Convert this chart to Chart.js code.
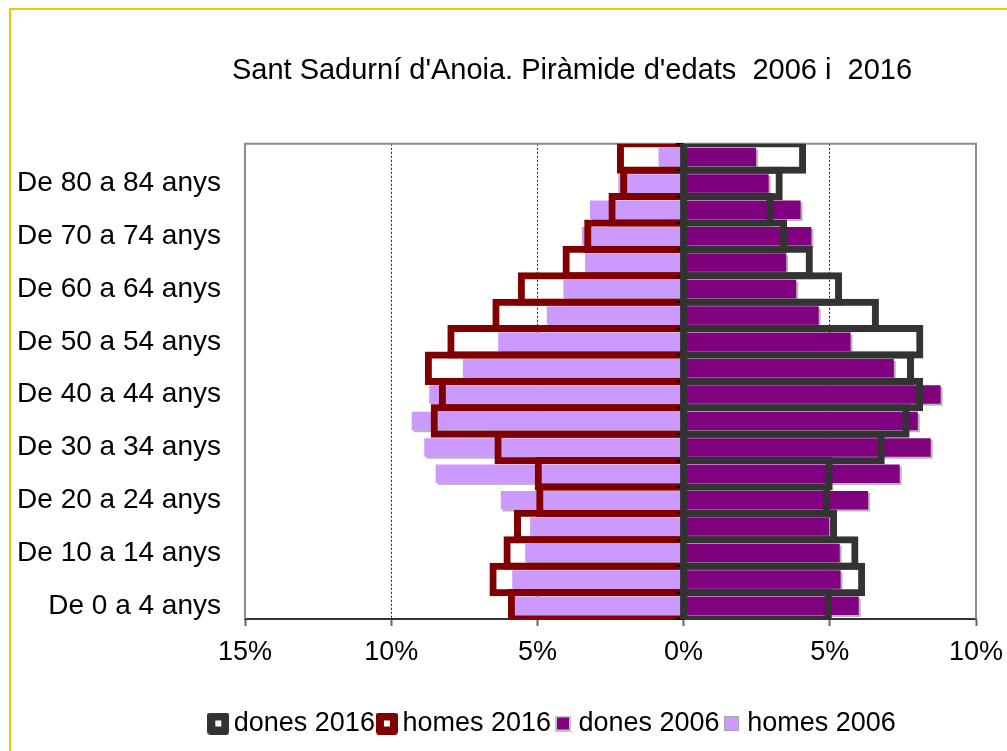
<!DOCTYPE html>
<html>
<head>
<meta charset="utf-8">
<script src="https://cdn.jsdelivr.net/npm/chart.js@4.4.1/dist/chart.umd.min.js"></script>
<style>
  html, body { margin: 0; padding: 0; background: #fff; overflow: hidden; }
  #marc { position: absolute; left: 9px; top: 8px; width: 1200px; height: 900px; border-left: 2px solid #f0c800; border-top: 2px solid #f0c800; }
  #grafic { position: absolute; left: 0; top: 0; }
</style>
</head>
<body>
<div id="marc"></div>
<canvas id="grafic" width="1007" height="751"></canvas>
<script>
// Grups d'edat (de baix a dalt)
const edats = [
  "De 0 a 4 anys", "De 5 a 9 anys", "De 10 a 14 anys", "De 15 a 19 anys",
  "De 20 a 24 anys", "De 25 a 29 anys", "De 30 a 34 anys", "De 35 a 39 anys",
  "De 40 a 44 anys", "De 45 a 49 anys", "De 50 a 54 anys", "De 55 a 59 anys",
  "De 60 a 64 anys", "De 65 a 69 anys", "De 70 a 74 anys", "De 75 a 79 anys",
  "De 80 a 84 anys", "De 85 anys i més"
];

// % sobre el total de cada sexe
const dones2016 = [5.07, 6.21, 5.98, 5.25, 5.01, 5.10, 6.88, 7.73, 8.19, 7.88, 8.20, 6.68, 5.42, 4.42, 3.54, 3.08, 3.39, 4.19];
const homes2016 = [6.01, 6.64, 6.16, 5.80, 5.04, 5.09, 6.47, 8.65, 8.37, 8.85, 8.08, 6.54, 5.67, 4.14, 3.40, 2.57, 2.17, 2.28];
const dones2006 = [5.99, 5.37, 5.34, 4.98, 6.31, 7.39, 8.45, 8.01, 8.79, 7.19, 5.71, 4.62, 3.85, 3.51, 4.37, 4.00, 2.91, 2.48];
const homes2006 = [5.85, 5.86, 5.42, 5.25, 6.25, 8.48, 8.87, 9.30, 8.70, 7.55, 6.34, 4.68, 4.11, 3.37, 3.48, 3.20, 2.23, 0.86];

const titol = "Sant Sadurní d'Anoia. Piràmide d'edats  2006 i  2016";
const ticksX = [-15, -10, -5, 0, 5, 10];

const FONT = "'Liberation Sans', Arial, sans-serif";
Chart.defaults.font.family = FONT;
Chart.defaults.color = "#000";

// quadradets de la llegenda
function quadret(mida, fons, vora, gruix, forat) {
  const c = document.createElement("canvas");
  c.width = mida; c.height = mida;
  const g = c.getContext("2d");
  g.fillStyle = vora;
  g.beginPath();
  g.roundRect(0, 0, mida, mida, forat ? 3 : 0);
  g.fill();
  g.fillStyle = fons;
  if (forat) {
    g.fillRect((mida - forat) / 2, (mida - forat) / 2, forat, forat);
  } else {
    g.fillRect(gruix, gruix, mida - 2 * gruix, mida - 2 * gruix);
  }
  return c;
}
const iconesLlegenda = [
  quadret(22, "#fff", "#333333", 0, 6),
  quadret(22, "#fff", "#800000", 0, 6),
  quadret(16, "#800080", "#c4c4c4", 2),
  quadret(15, "#cc99ff", "#a8a8a8", 1)
];

// marc gris de l'àrea de dibuix
const marcPlot = {
  id: "marcPlot",
  beforeDatasetsDraw(chart) {
    const { ctx, chartArea: a } = chart;
    ctx.save();
    ctx.strokeStyle = "#8c8c8c";
    ctx.lineWidth = 2;
    ctx.beginPath();
    ctx.moveTo(a.left, a.bottom);
    ctx.lineTo(a.left, a.top);
    ctx.lineTo(a.right, a.top);
    ctx.lineTo(a.right, a.bottom);
    ctx.stroke();
    ctx.restore();
  }
};

// ombra de les barres del 2006
const ombra = {
  id: "ombra",
  beforeDatasetDraw(chart, args) {
    if (args.index < 2) return;
    const ctx = chart.ctx;
    ctx.save();
    ctx.shadowColor = "#b8b8b8";
    ctx.shadowOffsetX = 2;
    ctx.shadowOffsetY = 2;
    ctx.shadowBlur = 0;
  },
  afterDatasetDraw(chart, args) {
    if (args.index < 2) return;
    chart.ctx.restore();
  }
};

// eix del 0% gruixut amb marques
const eixZero = {
  id: "eixZero",
  afterDatasetsDraw(chart) {
    const { ctx, chartArea: a, scales } = chart;
    const x0 = scales.x.getPixelForValue(0);
    ctx.save();
    ctx.strokeStyle = "#000";
    ctx.lineWidth = 1.5;
    for (let i = -1; i < edats.length; i++) {
      const y = scales.y.getPixelForValue(i + 0.5);
      ctx.beginPath();
      ctx.moveTo(x0 - 8, y);
      ctx.lineTo(x0, y);
      ctx.stroke();
    }
    ctx.fillStyle = "#333333";
    ctx.fillRect(x0 - 3.5, a.top, 7, a.bottom - a.top);
    ctx.restore();
  }
};

// el títol i la llegenda no estan centrats al gràfic original
const centres = {
  id: "centres",
  afterLayout(chart) {
    const t = chart.titleBlock;
    const dt = 572 - (t.left + t.right) / 2;
    t.left += dt; t.right += dt;
    const l = chart.legend;
    const dl = 556 - (l.left + l.right) / 2;
    l.left += dl; l.right += dl;
  }
};

const barra2016 = {
  backgroundColor: "rgba(0,0,0,0)",
  borderWidth: 7,
  borderSkipped: "start",
  barPercentage: 1.27,
  categoryPercentage: 1,
  grouped: false,
  clip: 0
};
const barra2006 = {
  borderWidth: 0,
  barPercentage: 0.7,
  categoryPercentage: 1,
  grouped: false
};

new Chart(document.getElementById("grafic"), {
  type: "bar",
  data: {
    labels: edats,
    datasets: [
      Object.assign({ label: "dones 2016", data: dones2016, borderColor: "#333333" }, barra2016),
      Object.assign({ label: "homes 2016", data: homes2016.map(v => -v), borderColor: "#800000" }, barra2016),
      Object.assign({ label: "dones 2006", data: dones2006, backgroundColor: "#800080" }, barra2006),
      Object.assign({ label: "homes 2006", data: homes2006.map(v => -v), backgroundColor: "#cc99ff" }, barra2006)
    ]
  },
  options: {
    indexAxis: "y",
    responsive: false,
    animation: false,
    devicePixelRatio: 1,
    layout: { padding: { left: 14, right: 31, top: 0, bottom: 4 } },
    scales: {
      x: {
        min: -15,
        max: 10,
        afterBuildTicks(scale) { scale.ticks = ticksX.map(v => ({ value: v })); },
        afterFit(scale) {
          scale.height = 81;
          scale.paddingLeft = 0;
          scale.paddingRight = 0;
        },
        ticks: {
          padding: 10,
          font: { size: 27 },
          color: "#000",
          callback: v => Math.abs(v) + "%"
        },
        grid: {
          color: c => [-10, -5, 5].includes(c.tick.value) ? "#222" : "rgba(0,0,0,0)",
          lineWidth: 1,
          tickLength: 7,
          tickWidth: 2,
          tickColor: "#666",
          tickBorderDash: []
        },
        border: { display: true, color: "#333", width: 2, dash: [2, 2] }
      },
      y: {
        reverse: true,
        afterFit(scale) { scale.width = 231; },
        ticks: {
          autoSkip: false,
          padding: 24,
          font: { size: 28 },
          color: "#000",
          callback(v, i) { return i % 2 === 0 ? edats[i] : ""; }
        },
        grid: { display: false, drawTicks: false },
        border: { display: false }
      }
    },
    plugins: {
      title: {
        display: true,
        text: titol,
        color: "#000",
        font: { size: 29, weight: "normal" },
        padding: { top: 54, bottom: 55 }
      },
      legend: {
        position: "bottom",
        labels: {
          usePointStyle: true,
          pointStyleWidth: 4,
          padding: 10,
          color: "#000",
          font: { size: 27 },
          generateLabels(chart) {
            const items = Chart.defaults.plugins.legend.labels.generateLabels(chart);
            items.forEach(it => { it.pointStyle = iconesLlegenda[it.datasetIndex]; });
            return items;
          }
        }
      },
      tooltip: { enabled: false }
    }
  },
  plugins: [marcPlot, ombra, eixZero, centres]
});
</script>
</body>
</html>
